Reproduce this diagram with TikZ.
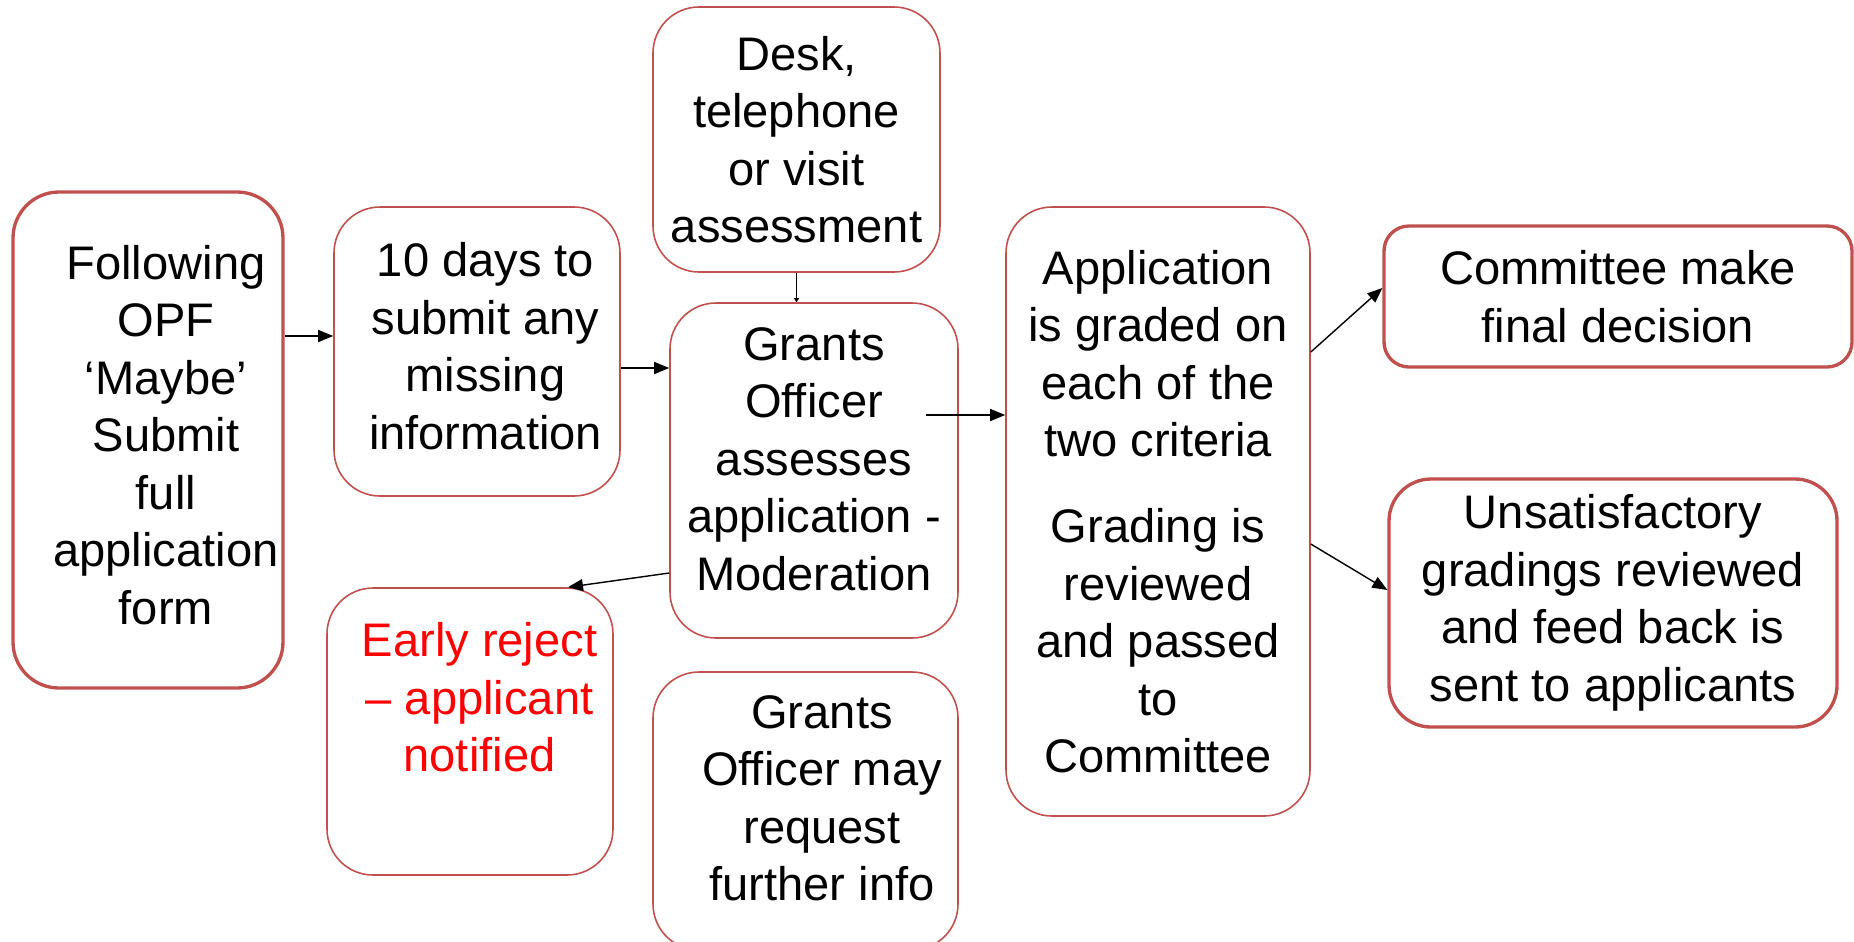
\documentclass[tikz,border=0pt]{standalone}
\usepackage{fontspec}
\setmainfont{Liberation Sans}
\usetikzlibrary{arrows.meta}
\definecolor{boxred}{HTML}{C0504D}
\newcommand{\nudge}[2]{\hspace*{#1}\begin{tabular}{@{}c@{}}#2\end{tabular}}

\begin{document}
\begin{tikzpicture}[
  font=\fontsize{13.4}{16.36}\selectfont,
  stage/.style={draw=boxred, line width=0.45pt, rectangle, rounded corners=0.46cm, inner sep=0pt, align=center},
  heavy/.style={stage, line width=0.95pt},
  arr/.style={-{Triangle[length=0.15cm, width=0.12cm]}, line width=0.4pt}
]
  \useasboundingbox (0,0) rectangle (18.54,-9.41);

  \node (fol) [heavy, minimum width=2.70cm, minimum height=4.96cm] at (1.48,-4.40) {\nudge{0.36cm}{Following\\OPF\\‘Maybe’\\Submit\\full\\application\\form}};
  \node (ten) [stage, minimum width=2.86cm, minimum height=2.89cm] at (4.77,-3.515) {\nudge{0.17cm}{10 days to\\submit any\\missing\\information}};
  \node (desk) [stage, minimum width=2.87cm, minimum height=2.65cm] at (7.965,-1.395) {Desk,\\telephone\\or visit\\assessment};
  \node (gao) [stage, minimum width=2.88cm, minimum height=3.35cm] at (8.14,-4.705) {\nudge{0pt}{Grants\\Officer\\assesses\\application -\\Moderation\\[0.14cm]}};
  \node (rej) [stage, text=red, minimum width=2.86cm, minimum height=2.87cm] at (4.70,-7.315) {\nudge{0.19cm}{Early reject\\– applicant\\notified\\~}};
  \node (req) [stage, minimum width=3.05cm, minimum height=2.78cm] at (8.055,-8.11) {\nudge{0.33cm}{Grants\\Officer may\\request\\further info\\[0.16cm]}};
  \node (app) [stage, minimum width=3.04cm, minimum height=6.09cm] at (11.58,-5.115) {Application\\is graded on\\each of the\\two criteria\\[0.285cm]Grading is\\reviewed\\and passed\\to\\Committee};
  \node (com) [heavy, rounded corners=0.25cm, minimum width=4.68cm, minimum height=1.41cm] at (16.18,-2.965) {Committee make\\final decision};
  \node (uns) [heavy, rounded corners=0.42cm, minimum width=4.48cm, minimum height=2.48cm] at (16.13,-6.03) {Unsatisfactory\\gradings reviewed\\and feed back is\\sent to applicants};

  \coordinate (gaoout) at (9.26,-4.15);

  \draw[arr] ([yshift=0.155cm]ten.west -| fol.east) -- ([yshift=0.155cm]ten.west);
  \draw[arr] ([yshift=-0.165cm]ten.east) -- ([yshift=-0.165cm]ten.east -| gao.west);
  \draw[line width=0.5pt, -{Triangle[length=0.04cm, width=0.05cm]}] (desk.south) -- (desk.south |- gao.north);
  \draw[arr] (gaoout) -- (gaoout -| app.west);
  \draw[arr] ([yshift=-1.025cm]gao.west) -- ([xshift=0.98cm]rej.north);
  \draw[arr] ([yshift=1.595cm]app.east) -- ([yshift=0.085cm]com.west);
  \draw[arr] ([yshift=-0.325cm]app.east) -- ([yshift=0.13cm]uns.west);
\end{tikzpicture}
\end{document}
